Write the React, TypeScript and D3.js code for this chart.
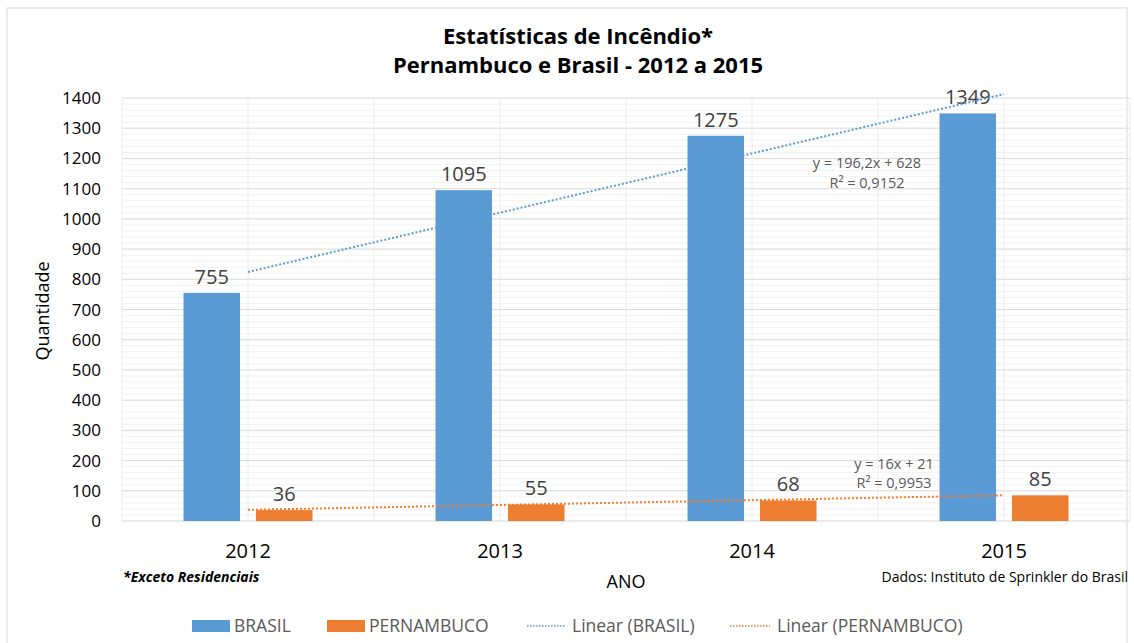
import React from 'react';
import * as d3 from 'd3';

const years = ['2012', '2013', '2014', '2015'];
const series = ['BRASIL', 'PERNAMBUCO'];
const brasil = [755, 1095, 1275, 1349];
const pernambuco = [36, 55, 68, 85];
// linear trend coefficients shown on the chart (y = a*x + b, x = 1..4)
const trendBrasil = { a: 196.2, b: 628, label: 'y = 196,2x + 628', r2: 'R² = 0,9152' };
const trendPernambuco = { a: 16, b: 21, label: 'y = 16x + 21', r2: 'R² = 0,9953' };
const yTicks = [0, 100, 200, 300, 400, 500, 600, 700, 800, 900, 1000, 1100, 1200, 1300, 1400];

const W = 1134;
const H = 643;
const FONT = '"Open Sans", Lato, sans-serif';
const BLUE = '#5B9BD5';
const ORANGE = '#ED7D31';
const TXT = '#404040';

export default function App() {
  const left = 122, right = 1130, top = 98, bottom = 521;

  const x0 = d3.scaleBand<string>().domain(years).range([left, right]).padding(0);
  const groupW = 129;
  const x1 = d3.scaleBand<string>().domain(series).range([0, groupW]).paddingInner(0.22);
  const y = d3.scaleLinear().domain([0, 1400]).range([bottom, top]);
  const minor = d3.range(0, 1401, 20);

  const cx = (yr: string) => (x0(yr) as number) + x0.bandwidth() / 2;
  const barX = (yr: string, s: string) => (x0(yr) as number) + (x0.bandwidth() - groupW) / 2 + (x1(s) as number);

  const trendLine = (t: { a: number; b: number }) =>
    d3.line<string>().x(d => cx(d)).y((d, i) => y(t.a * (i + 1) + t.b))(years) as string;

  const vLines = d3.range(0, years.length * 2 + 1).map(i => left + (i * x0.bandwidth()) / 2);

  const data = [brasil, pernambuco];
  const colors = [BLUE, ORANGE];

  return (
    <svg width={W} height={H} style={{ position: 'absolute', left: 0, top: 0, background: '#fff' }} fontFamily={FONT}>
      <rect x={7} y={8} width={W - 14} height={H} fill="#fff" stroke="#D9D9D9" />

      <text x={578} y={44} textAnchor="middle" fontSize={22} fontWeight="bold" fill="#000">Estatísticas de Incêndio*</text>
      <text x={578} y={73} textAnchor="middle" fontSize={22} fontWeight="bold" fill="#000">Pernambuco e Brasil - 2012 a 2015</text>

      {/* grid */}
      <g>
        {minor.map(v => (
          <line key={'m' + v} x1={left} x2={right} y1={y(v)} y2={y(v)} stroke="#F2F2F2" />
        ))}
        {yTicks.map(v => (
          <line key={'M' + v} x1={left} x2={right} y1={y(v)} y2={y(v)} stroke="#DCDCDC" />
        ))}
        {vLines.map((v, i) => (
          <line key={'v' + i} x1={v} x2={v} y1={top} y2={bottom} stroke="#EBEBEB" />
        ))}
      </g>

      {/* y ticks */}
      {yTicks.map(v => (
        <text key={'t' + v} x={101} y={y(v) + 6} textAnchor="end" fontSize={17} fill="#000">{v}</text>
      ))}
      <text transform={`translate(49,311) rotate(-90)`} textAnchor="middle" fontSize={18} fill="#000">Quantidade</text>

      {/* bars */}
      {series.map((s, si) =>
        years.map((yr, i) => (
          <g key={s + yr}>
            <rect x={barX(yr, s)} y={y(data[si][i])} width={x1.bandwidth()} height={bottom - y(data[si][i])} fill={colors[si]} />
            <text x={barX(yr, s) + x1.bandwidth() / 2} y={y(data[si][i]) - 9} textAnchor="middle" fontSize={20} fill={TXT}>
              {data[si][i]}
            </text>
          </g>
        ))
      )}

      {/* trend lines */}
      <path d={trendLine(trendBrasil)} fill="none" stroke={BLUE} strokeWidth={2} strokeDasharray="2,2" />
      <path d={trendLine(trendPernambuco)} fill="none" stroke={ORANGE} strokeWidth={2} strokeDasharray="2,2" />
      <text x={867} y={168} textAnchor="middle" fontSize={14.5} fill="#595959">{trendBrasil.label}</text>
      <text x={867} y={188} textAnchor="middle" fontSize={14.5} fill="#595959">{trendBrasil.r2}</text>
      <text x={894} y={469} textAnchor="middle" fontSize={14.5} fill="#595959">{trendPernambuco.label}</text>
      <text x={894} y={488} textAnchor="middle" fontSize={14.5} fill="#595959">{trendPernambuco.r2}</text>

      {/* x ticks */}
      {years.map(yr => (
        <text key={'x' + yr} x={cx(yr)} y={558} textAnchor="middle" fontSize={20} fill="#000">{yr}</text>
      ))}
      <text x={626} y={588} textAnchor="middle" fontSize={18} fill="#000">ANO</text>
      <text x={123} y={582} fontSize={14} fontWeight="bold" fontStyle="italic" fill="#000">*Exceto Residenciais</text>
      <text x={1128} y={582} textAnchor="end" fontSize={14} fill="#000">Dados: Instituto de Sprinkler do Brasil</text>

      {/* legend */}
      <g fontSize={17.5} fill="#595959">
        <rect x={192} y={620} width={38} height={12} fill={BLUE} />
        <text x={234} y={632}>BRASIL</text>
        <rect x={327} y={620} width={38} height={12} fill={ORANGE} />
        <text x={369} y={632}>PERNAMBUCO</text>
        <line x1={527} x2={565} y1={626} y2={626} stroke={BLUE} strokeWidth={1.5} strokeDasharray="1.5,1.5" />
        <text x={572} y={632}>Linear (BRASIL)</text>
        <line x1={730} x2={770} y1={626} y2={626} stroke={ORANGE} strokeWidth={1.5} strokeDasharray="1.5,1.5" />
        <text x={777} y={632}>Linear (PERNAMBUCO)</text>
      </g>
    </svg>
  );
}
